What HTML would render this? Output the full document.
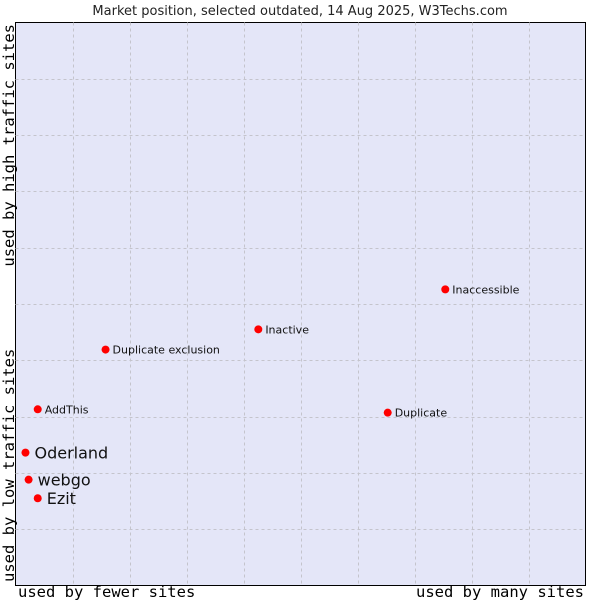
<!DOCTYPE html>
<html><head><meta charset="utf-8"><style>
html,body{margin:0;padding:0;background:#fff;}
svg{display:block;}
</style></head><body>
<svg width="600" height="600" viewBox="0 0 600 600">
<text x="300" y="15" text-anchor="middle" font-family="DejaVu Sans, sans-serif" font-size="13" fill="#222">Market position, selected outdated, 14 Aug 2025, W3Techs.com</text>
<rect x="15.5" y="22.5" width="570" height="563" fill="#e4e6f8" stroke="#000" stroke-width="1"/>
<g id="grid"></g>
<g id="points"></g>
<text x="18" y="597" font-family="DejaVu Sans Mono, Liberation Mono, monospace" font-size="15.5" fill="#000">used by fewer sites</text>
<text x="584" y="597" text-anchor="end" font-family="DejaVu Sans Mono, Liberation Mono, monospace" font-size="15.5" fill="#000">used by many sites</text>
<text transform="translate(14,582) rotate(-90)" font-family="DejaVu Sans Mono, Liberation Mono, monospace" font-size="15.5" fill="#000">used by low traffic sites</text>
<text transform="translate(14,24) rotate(-90)" text-anchor="end" font-family="DejaVu Sans Mono, Liberation Mono, monospace" font-size="15.5" fill="#000">used by high traffic sites</text>
</svg>
<script>
const names = ["Inaccessible","Inactive","Duplicate exclusion","AddThis","Duplicate","Oderland","webgo","Ezit"];
const xVals = [75.4,42.6,15.8,3.9,65.3,1.75,2.3,3.9];
const yVals = [52.6,45.5,41.9,31.3,30.7,23.6,18.8,15.5];
const big = [false,false,false,false,false,true,true,true];
const NS="http://www.w3.org/2000/svg";
const L=15.5,T=22.5,W=570,H=563;
function sx(v){return L+v/100*W;}
function sy(v){return T+H-v/100*H;}
const grid=document.getElementById('grid');
for(let i=1;i<10;i++){
  const v=document.createElementNS(NS,'line');
  
  
  const x=Math.round(sx(i*10))+0.5;
  v.setAttribute('x1',x);v.setAttribute('x2',x);v.setAttribute('y1',T);v.setAttribute('y2',T+H);
  v.setAttribute('stroke','#c4c4cc');v.setAttribute('stroke-dasharray','3,3');
  grid.appendChild(v);
  const h=document.createElementNS(NS,'line');
  
  
  const y=Math.round(sy(i*10))+0.5;
  h.setAttribute('y1',y);h.setAttribute('y2',y);h.setAttribute('x1',L);h.setAttribute('x2',L+W);
  h.setAttribute('stroke','#c4c4cc');h.setAttribute('stroke-dasharray','3,3');
  grid.appendChild(h);
}
const pts=document.getElementById('points');
names.forEach((n,i)=>{
  const cx=sx(xVals[i]),cy=sy(yVals[i]);
  const c=document.createElementNS(NS,'circle');
  
  
  c.setAttribute('cx',cx);c.setAttribute('cy',cy);c.setAttribute('r',4);c.setAttribute('fill','#f00');
  pts.appendChild(c);
  const t=document.createElementNS(NS,'text');
  
  
  t.setAttribute('x',cx+(big[i]?9:7));t.setAttribute('y',cy+(big[i]?6:4));
  t.setAttribute('font-family','DejaVu Sans, sans-serif');
  t.setAttribute('font-size',big[i]?16:11);t.setAttribute('fill','#111');
  t.textContent=n;
  pts.appendChild(t);
});
</script>
</body></html>
